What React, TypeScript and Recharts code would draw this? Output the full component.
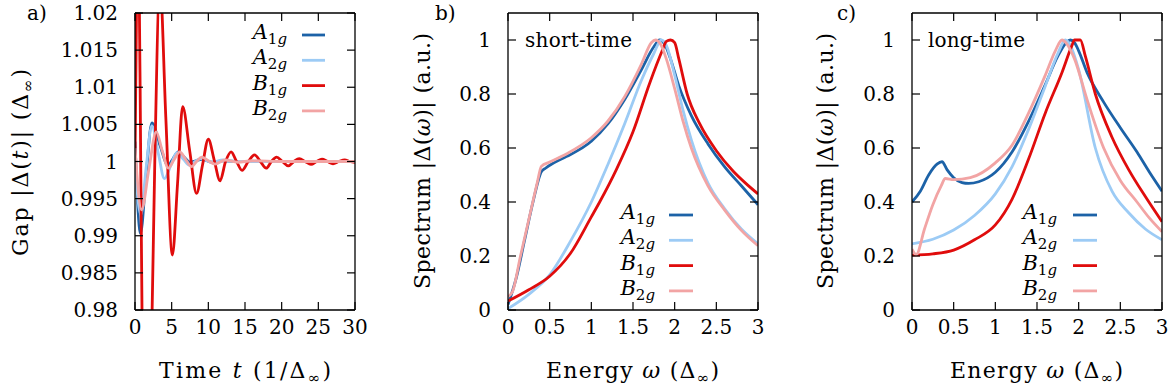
import React from 'react';
import { LineChart, Line, XAxis, YAxis, Legend } from 'recharts';

const FONT = '"DejaVu Serif", serif';
const FS = 20;
const TITLE_FS = 22;
const TITLE_SUB = 15;

const SERIES_NAMES = ['A1g', 'A2g', 'B1g', 'B2g'];
const SERIES_COLORS = ['#1c62a7', '#9ccbf5', '#e00c0c', '#f2a4a4'];

// ---------- panel a: gap vs time ----------
const xTicksTime = [0, 5, 10, 15, 20, 25, 30];
const yTicksGap = [0.98, 0.985, 0.99, 0.995, 1, 1.005, 1.01, 1.015, 1.02];

const tA1g = [0, 0.75, 1.5, 2.3, 3.4, 4.5, 5.2, 5.9, 6.7, 7.5, 8.3, 9.1, 10.5, 12, 14, 30];
const gA1g = [1.0027, 0.9903, 0.998, 1.0052, 1.0022, 0.9995, 1.0004, 1.0013, 1.0006, 0.9999, 1.0001, 1.0003, 0.9999, 1.0001, 1.0, 1.0];

const tA2g = [0, 0.8, 1.5, 2.3, 3.2, 4.0, 4.9, 5.7, 6.6, 7.4, 8.2, 9.0, 10.5, 12, 14, 30];
const gA2g = [0.9995, 0.9928, 0.999, 1.0048, 1.001, 0.9977, 0.9995, 1.0012, 1.0003, 0.9995, 1.0, 1.0004, 0.9999, 1.0002, 1.0, 1.0];

const tB1g = [0, 0.2, 0.45, 0.7, 1.0, 1.7, 2.3, 2.7, 3.4, 4.2, 5.1, 5.8, 6.5, 7.45, 8.4, 9.2, 10.0, 10.8, 11.6, 12.35, 13.1, 13.85, 14.6, 15.45, 16.3, 17.1, 17.9, 18.6, 19.3, 20.1, 20.9, 21.65, 22.4, 23.2, 24.0, 24.75, 25.5, 26.25, 27.0, 27.8, 28.6, 29.3, 30];
const gB1g = [1.0, 1.02, 1.03, 1.01, 0.975, 0.955, 0.978, 1.0, 1.024, 1.006, 0.9874, 0.997, 1.0074, 1.0015, 0.9957, 0.9995, 1.003, 1.0002, 0.9974, 1.0, 1.0013, 1.0, 0.9988, 1.0, 1.0009, 1.0, 0.9991, 1.0, 1.0006, 1.0, 0.9994, 1.0, 1.0004, 1.0, 0.9996, 1.0, 1.0003, 1.0, 0.9997, 1.0, 1.0002, 1.0, 0.9999];

const tB2g = [0, 0.9, 1.9, 2.9, 3.7, 4.55, 5.3, 6.1, 6.9, 7.7, 8.4, 9.1, 10.0, 10.9, 12.3, 14, 16, 20, 30];
const gB2g = [1.0018, 0.9935, 0.999, 1.004, 1.0015, 0.9991, 1.0002, 1.0013, 1.0003, 0.9993, 1.0, 1.0006, 1.0001, 0.99966, 1.0002, 0.9999, 1.0001, 1.0, 1.0];

// ---------- panels b, c: spectra ----------
const xTicksEnergy = [0, 0.5, 1, 1.5, 2, 2.5, 3];
const yTicksSpec = [0, 0.2, 0.4, 0.6, 0.8, 1];

// short-time
const wShortA1g = [0, 0.1, 0.2, 0.3, 0.4, 0.45, 0.55, 0.7, 1.0, 1.2, 1.4, 1.6, 1.75, 1.82, 1.88, 1.95, 2.05, 2.2, 2.4, 2.6, 2.8, 3.0];
const sShortA1g = [0.02, 0.12, 0.26, 0.4, 0.512, 0.525, 0.545, 0.568, 0.625, 0.69, 0.78, 0.89, 0.975, 1.0, 0.985, 0.93, 0.83, 0.72, 0.615, 0.53, 0.46, 0.39];

const wShortA2g = [0, 0.25, 0.5, 0.75, 1.0, 1.2, 1.4, 1.6, 1.75, 1.84, 1.9, 2.0, 2.1, 2.2, 2.4, 2.6, 2.8, 3.0];
const sShortA2g = [0.005, 0.058, 0.13, 0.255, 0.4, 0.54, 0.69, 0.85, 0.95, 1.0, 0.98, 0.87, 0.74, 0.63, 0.47, 0.375, 0.3, 0.245];

const wShortB1g = [0, 0.25, 0.5, 0.75, 1.0, 1.1, 1.3, 1.5, 1.7, 1.85, 1.9, 1.95, 2.0, 2.05, 2.15, 2.3, 2.5, 2.7, 2.85, 3.0];
const sShortB1g = [0.033, 0.075, 0.125, 0.21, 0.345, 0.4, 0.52, 0.66, 0.84, 0.96, 0.995, 1.0, 0.99, 0.93, 0.8, 0.69, 0.59, 0.515, 0.47, 0.43];

const wShortB2g = [0, 0.05, 0.15, 0.25, 0.35, 0.4, 0.5, 0.7, 1.0, 1.2, 1.4, 1.6, 1.72, 1.77, 1.83, 1.9, 2.0, 2.1, 2.2, 2.4, 2.6, 2.8, 3.0];
const sShortB2g = [0.05, 0.065, 0.2, 0.335, 0.47, 0.532, 0.548, 0.578, 0.638, 0.7, 0.79, 0.91, 0.99, 1.0, 0.985, 0.93, 0.82, 0.7, 0.6, 0.46, 0.37, 0.295, 0.238];

// long-time
const wLongA1g = [0, 0.1, 0.2, 0.3, 0.36, 0.42, 0.5, 0.6, 0.68, 0.8, 1.0, 1.2, 1.4, 1.6, 1.75, 1.85, 1.9, 1.95, 2.0, 2.1, 2.3, 2.5, 2.7, 2.85, 3.0];
const sLongA1g = [0.4, 0.44, 0.5, 0.54, 0.549, 0.52, 0.49, 0.472, 0.469, 0.475, 0.51, 0.585, 0.7, 0.835, 0.94, 0.99, 1.0, 0.99, 0.96, 0.88, 0.77, 0.675, 0.585, 0.51, 0.44];

const wLongA2g = [0, 0.25, 0.5, 0.75, 1.0, 1.2, 1.4, 1.6, 1.75, 1.84, 1.9, 2.0, 2.2, 2.4, 2.6, 2.8, 3.0];
const sLongA2g = [0.245, 0.262, 0.296, 0.35, 0.43, 0.53, 0.67, 0.83, 0.95, 1.0, 0.98, 0.89, 0.6, 0.44, 0.36, 0.3, 0.26];

const wLongB1g = [0, 0.25, 0.5, 0.75, 1.0, 1.2, 1.4, 1.6, 1.8, 1.92, 1.95, 2.02, 2.08, 2.2, 2.4, 2.6, 2.8, 3.0];
const sLongB1g = [0.203, 0.208, 0.222, 0.26, 0.315, 0.41, 0.56, 0.73, 0.88, 0.98, 1.0, 1.0, 0.94, 0.8, 0.64, 0.52, 0.42, 0.327];

const wLongB2g = [0, 0.05, 0.15, 0.25, 0.35, 0.4, 0.5, 0.7, 1.0, 1.2, 1.4, 1.6, 1.72, 1.8, 1.86, 1.95, 2.1, 2.3, 2.5, 2.7, 2.85, 3.0];
const sLongB2g = [0.225, 0.205, 0.3, 0.39, 0.46, 0.487, 0.483, 0.49, 0.545, 0.61, 0.73, 0.87, 0.96, 1.0, 0.985, 0.93, 0.78, 0.6, 0.48, 0.4, 0.34, 0.29];

const zip = (xs: number[], ys: number[]) => xs.map((x, i) => ({ x, v: ys[i] }));

const panelAData = [zip(tA1g, gA1g), zip(tA2g, gA2g), zip(tB1g, gB1g), zip(tB2g, gB2g)];
const panelBData = [zip(wShortA1g, sShortA1g), zip(wShortA2g, sShortA2g), zip(wShortB1g, sShortB1g), zip(wShortB2g, sShortB2g)];
const panelCData = [zip(wLongA1g, sLongA1g), zip(wLongA2g, sLongA2g), zip(wLongB1g, sLongB1g), zip(wLongB2g, sLongB2g)];

const tickStyle = { fontFamily: FONT, fontSize: FS, fill: '#000' };
const axisLineStyle = { stroke: '#000', strokeWidth: 1.3 };
const tickLineStyle = { stroke: '#000', strokeWidth: 1.2 };

type LegendSpec = { textRight: number; lineX1: number; lineX2: number; y0: number; dy: number };

const LegendSvg = ({ spec, w }: { spec: LegendSpec; w: number }) => (
  <svg width={w} height={392} style={{ position: 'absolute', left: 0, top: 0, pointerEvents: 'none' }}>
    {SERIES_NAMES.map((n, i) => {
      const y = spec.y0 + i * spec.dy;
      return (
        <g key={n}>
          <text x={spec.textRight} y={y + 4} textAnchor="end" fontFamily={FONT} fontSize={21} fill="#000">
            <tspan fontStyle="italic">{n[0]}</tspan>
            <tspan fontSize={15} dy={5}>{n[1]}</tspan>
            <tspan fontSize={15} fontStyle="italic">{n[2]}</tspan>
          </text>
          <line x1={spec.lineX1} x2={spec.lineX2} y1={y} y2={y} stroke={SERIES_COLORS[i]} strokeWidth={2.8} />
        </g>
      );
    })}
  </svg>
);

type PanelProps = {
  left: number;
  width: number;
  yAxisWidth: number;
  marginRight: number;
  xDomain: [number, number];
  xTicks: number[];
  yDomain: [number, number];
  yTicks: number[];
  data: { x: number; v: number }[][];
  legend: LegendSpec;
};

const Panel = ({ left, width, yAxisWidth, marginRight, xDomain, xTicks, yDomain, yTicks, data, legend }: PanelProps) => (
  <div style={{ position: 'absolute', left, top: 0 }}>
    <LineChart width={width} height={392} margin={{ top: 12, right: marginRight, bottom: 22, left: 0 }}>
      <XAxis
        xAxisId="b"
        dataKey="x"
        type="number"
        domain={xDomain}
        ticks={xTicks}
        interval={0}
        allowDataOverflow
        height={60}
        tickSize={-8}
        tickMargin={18}
        tick={tickStyle}
        axisLine={axisLineStyle}
        tickLine={tickLineStyle}
      />
      <XAxis
        xAxisId="t"
        orientation="top"
        dataKey="x"
        type="number"
        domain={xDomain}
        ticks={xTicks}
        interval={0}
        allowDataOverflow
        height={1}
        tickSize={-8}
        tickFormatter={() => ''}
        axisLine={axisLineStyle}
        tickLine={tickLineStyle}
      />
      <YAxis
        yAxisId="l"
        type="number"
        domain={yDomain}
        ticks={yTicks}
        interval={0}
        allowDataOverflow
        width={yAxisWidth}
        tickSize={-8}
        tickMargin={25}
        tick={tickStyle}
        axisLine={axisLineStyle}
        tickLine={tickLineStyle}
      />
      <YAxis
        yAxisId="r"
        orientation="right"
        type="number"
        domain={yDomain}
        ticks={yTicks}
        interval={0}
        allowDataOverflow
        width={1}
        tickSize={-8}
        tickFormatter={() => ''}
        axisLine={axisLineStyle}
        tickLine={tickLineStyle}
      />
      {data.map((d, i) => (
        <Line
          key={SERIES_NAMES[i]}
          name={SERIES_NAMES[i]}
          data={d}
          dataKey="v"
          xAxisId="b"
          yAxisId="l"
          type="monotone"
          stroke={SERIES_COLORS[i]}
          strokeWidth={2.8}
          dot={false}
          activeDot={false}
          isAnimationActive={false}
        />
      ))}
      <Legend
        layout="vertical"
        align="center"
        verticalAlign="middle"
        wrapperStyle={{ left: 0, top: 0, width, height: 392, pointerEvents: 'none' }}
        content={() => <LegendSvg spec={legend} w={width} />}
      />
    </LineChart>
  </div>
);

const T = (props: any) => <text fontFamily={FONT} fontSize={FS} fill="#000" {...props} />;

const Overlay = () => (
  <svg width={1173} height={392} style={{ position: 'absolute', left: 0, top: 0, pointerEvents: 'none' }}>
    <T x={27} y={20}>a)</T>
    <T x={435} y={20}>b)</T>
    <T x={837} y={20}>c)</T>
    <T x={525} y={47} textLength={107} lengthAdjust="spacing">short-time</T>
    <T x={928} y={47} textLength={97} lengthAdjust="spacing">long-time</T>

    {/* x titles */}
    <T x={159} y={378} fontSize={TITLE_FS} textLength={172} lengthAdjust="spacing">
      <tspan>Time </tspan>
      <tspan fontStyle="italic">t</tspan>
      <tspan> (1/Δ</tspan>
      <tspan fontSize={TITLE_SUB} dy={5}>∞</tspan>
      <tspan dy={-5}>)</tspan>
    </T>
    <T x={546} y={378} fontSize={TITLE_FS} textLength={173} lengthAdjust="spacing">
      <tspan>Energy </tspan>
      <tspan fontStyle="italic">ω</tspan>
      <tspan> (Δ</tspan>
      <tspan fontSize={TITLE_SUB} dy={5}>∞</tspan>
      <tspan dy={-5}>)</tspan>
    </T>
    <T x={950} y={378} fontSize={TITLE_FS} textLength={173} lengthAdjust="spacing">
      <tspan>Energy </tspan>
      <tspan fontStyle="italic">ω</tspan>
      <tspan> (Δ</tspan>
      <tspan fontSize={TITLE_SUB} dy={5}>∞</tspan>
      <tspan dy={-5}>)</tspan>
    </T>

    {/* y titles */}
    <T x={0} y={0} fontSize={TITLE_FS} textLength={187} lengthAdjust="spacing" transform="translate(28,256) rotate(-90)">
      <tspan>Gap |Δ(</tspan>
      <tspan fontStyle="italic">t</tspan>
      <tspan>)| (Δ</tspan>
      <tspan fontSize={TITLE_SUB} dy={5}>∞</tspan>
      <tspan dy={-5}>)</tspan>
    </T>
    <T x={0} y={0} fontSize={TITLE_FS} textLength={256} lengthAdjust="spacing" transform="translate(430,289) rotate(-90)">
      <tspan>Spectrum |Δ(</tspan>
      <tspan fontStyle="italic">ω</tspan>
      <tspan>)| (a.u.)</tspan>
    </T>
    <T x={0} y={0} fontSize={TITLE_FS} textLength={256} lengthAdjust="spacing" transform="translate(833,289) rotate(-90)">
      <tspan>Spectrum |Δ(</tspan>
      <tspan fontStyle="italic">ω</tspan>
      <tspan>)| (a.u.)</tspan>
    </T>
  </svg>
);

export default function App() {
  return (
    <div style={{ position: 'absolute', left: 0, top: 0, width: 1173, height: 392, background: '#fff', overflow: 'hidden' }}>
      <Panel
        left={0}
        width={370}
        yAxisWidth={135}
        marginRight={14}
        xDomain={[0, 30]}
        xTicks={xTicksTime}
        yDomain={[0.98, 1.02]}
        yTicks={yTicksGap}
        data={panelAData}
        legend={{ textRight: 287, lineX1: 302, lineX2: 325, y0: 35, dy: 25.3 }}
      />
      <Panel
        left={380}
        width={392}
        yAxisWidth={128}
        marginRight={13}
        xDomain={[0, 3]}
        xTicks={xTicksEnergy}
        yDomain={[0, 1.1]}
        yTicks={yTicksSpec}
        data={panelBData}
        legend={{ textRight: 655 - 380, lineX1: 669 - 380, lineX2: 693 - 380, y0: 215, dy: 25.3 }}
      />
      <Panel
        left={790}
        width={383}
        yAxisWidth={122}
        marginRight={10}
        xDomain={[0, 3]}
        xTicks={xTicksEnergy}
        yDomain={[0, 1.1]}
        yTicks={yTicksSpec}
        data={panelCData}
        legend={{ textRight: 1057 - 790, lineX1: 1073 - 790, lineX2: 1097 - 790, y0: 215, dy: 25.3 }}
      />
      <Overlay />
    </div>
  );
}
